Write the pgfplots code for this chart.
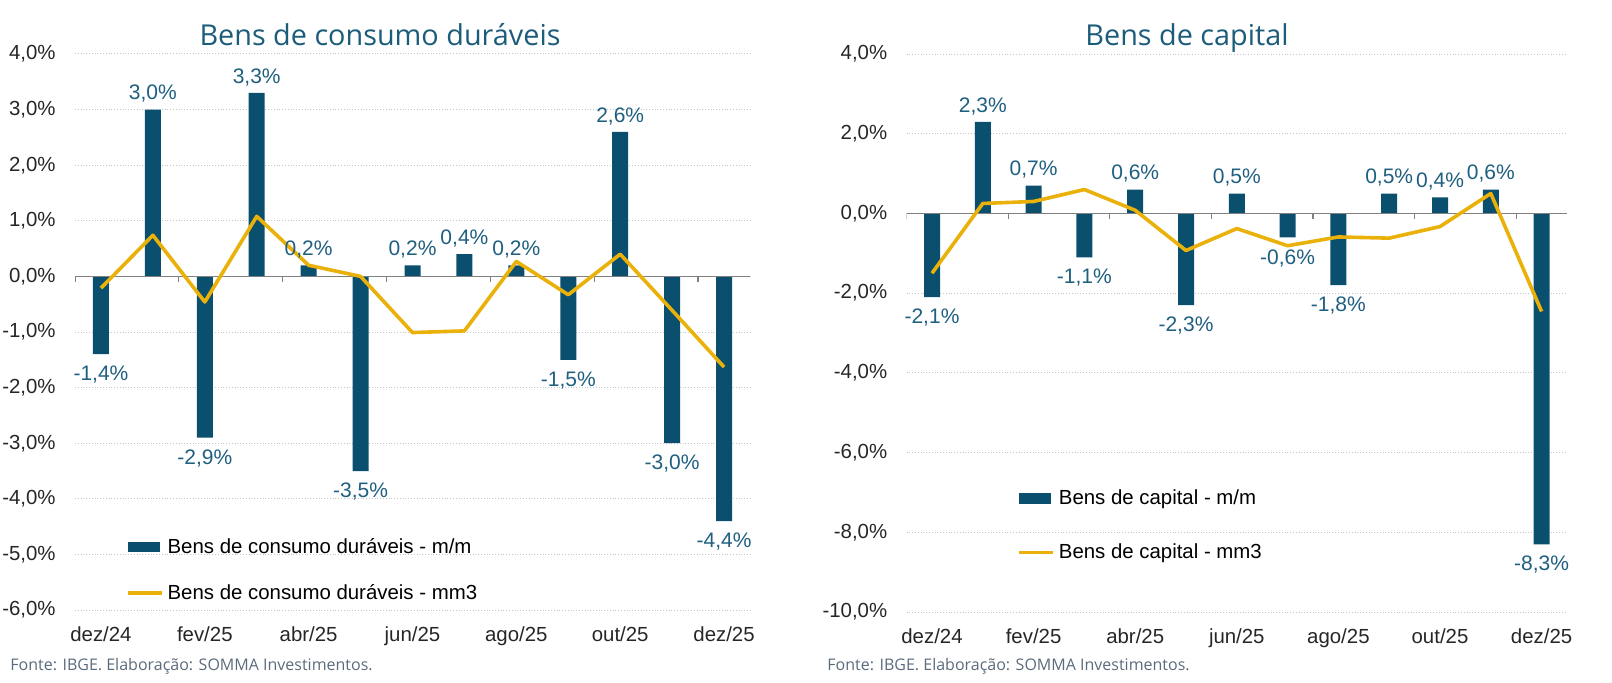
\documentclass[border=0pt]{standalone}
\usepackage{fontspec}
\setmainfont{Liberation Sans}
\newfontfamily\titlefont{Open Sans}
\usepackage{pgfplots}
\pgfplotsset{compat=1.18}

\definecolor{barcol}{HTML}{0A4F6E}
\definecolor{linecol}{HTML}{E9B10A}
\definecolor{labcol}{HTML}{1F5F80}
\definecolor{titcol}{HTML}{1B5C7A}
\definecolor{fontecol}{HTML}{5B6B7C}
\definecolor{tickcol}{HTML}{262626}
\definecolor{zerocol}{HTML}{808080}

\pgfplotsset{
  painel/.style={
    scale only axis, anchor=south west,
    xmin=-0.5, xmax=12.5,
    axis line style={draw=none},
    xtick={0,2,...,12},
    xticklabels={dez/24,fev/25,abr/25,jun/25,ago/25,out/25,dez/25},
    major tick length=0pt,
    ymajorgrids, grid style={densely dotted, gray!45, line width=0.5pt},
    /pgf/number format/assume math mode=true,
    yticklabel={\pgfmathprintnumber[fixed,fixed zerofill,precision=1,use comma]{\tick}\%},
    tick label style={font=\fontsize{10.2}{12}\selectfont, text=tickcol},
    yticklabel style={inner sep=0pt, xshift=-9.5pt},
    xticklabel style={inner sep=0pt, yshift=-8.4pt},
    legend cell align=left,
    legend style={draw=none, fill=none, font=\fontsize{10.2}{12}\selectfont,
      text=black, inner sep=0pt, anchor=north west},
  },
  barras/.style={
    ybar, bar width=8pt, bar shift=0pt, fill=barcol, draw=none,
    visualization depends on={y \as \rawy},
    nodes near coords={\pgfmathprintnumber[fixed,fixed zerofill,precision=1,use comma]{\pgfplotspointmeta}\%},
    nodes near coords align={vertical},
    nodes near coords style={font=\fontsize{10.5}{12}\selectfont, text=labcol,
      yshift={-2.5*(\rawy<0)}},
    legend image code/.code={\fill[barcol] (0pt,-2.6pt) rectangle (16pt,2.6pt);},
  },
  linha/.style={
    linecol, line width=1.8pt, mark=none, line join=round,
    legend image code/.code={\draw[linecol, line width=1.8pt] (0pt,0pt) -- (17pt,0pt);},
  },
}

\begin{document}
\begin{tikzpicture}
\useasboundingbox (0,0) rectangle (806pt,341pt);

% Bens de consumo duraveis
\begin{axis}[painel,
    at={(37.5pt,36pt)}, width=337.5pt, height=278pt,
    ymin=-6, ymax=4, ytick={-6,-5,...,4},
    legend style={at={(0.075,0.137)}, row sep=10pt},
  ]
  \addplot[barras] coordinates {
    (0,-1.4) (1,3.0) (2,-2.9) (3,3.3) (4,0.2) (5,-3.5) (6,0.2)
    (7,0.4) (8,0.2) (9,-1.5) (10,2.6) (11,-3.0) (12,-4.4)
  };
  \addlegendentry{Bens de consumo duráveis - m/m}
  \draw[zerocol, line width=0.75pt] (axis cs:-0.5,0) -- (axis cs:12.5,0);
  \pgfplotsinvokeforeach{-0.5,1.5,3.5,5.5,7.5,9.5,11.5}{
    \draw[zerocol, line width=0.6pt] (axis cs:#1,0) -- ++(0pt,-3pt);
  }
  \addplot[linha] coordinates {
    (0,-0.21) (1,0.74) (2,-0.46) (3,1.08) (4,0.20) (5,0.0) (6,-1.01)
    (7,-0.98) (8,0.27) (9,-0.33) (10,0.40) (11,-0.61) (12,-1.63)
  };
  \addlegendentry{Bens de consumo duráveis - mm3}
\end{axis}

% Bens de capital
\begin{axis}[painel,
    at={(453.3pt,35pt)}, width=330.2pt, height=279pt,
    ymin=-10, ymax=4, ytick={-10,-8,...,4},
    legend style={at={(0.167,0.227)}, row sep=14pt},
  ]
  \addplot[barras] coordinates {
    (0,-2.1) (1,2.3) (2,0.7) (3,-1.1) (4,0.6) (5,-2.3) (6,0.5)
    (7,-0.6) (8,-1.8) (9,0.5) (10,0.4) (11,0.6) (12,-8.3)
  };
  \addlegendentry{Bens de capital - m/m}
  \draw[zerocol, line width=0.75pt] (axis cs:-0.5,0) -- (axis cs:12.5,0);
  \pgfplotsinvokeforeach{-0.5,1.5,3.5,5.5,7.5,9.5,11.5}{
    \draw[zerocol, line width=0.6pt] (axis cs:#1,0) -- ++(0pt,-3pt);
  }
  \addplot[linha] coordinates {
    (0,-1.50) (1,0.25) (2,0.30) (3,0.60) (4,0.08) (5,-0.93) (6,-0.38)
    (7,-0.81) (8,-0.59) (9,-0.62) (10,-0.33) (11,0.50) (12,-2.46)
  };
  \addlegendentry{Bens de capital - mm3}
\end{axis}

\node[anchor=base, inner sep=0pt, text=titcol] at (190pt,318.5pt)
  {\titlefont\fontsize{14.4}{16}\selectfont Bens de consumo duráveis};
\node[anchor=base, inner sep=0pt, text=titcol] at (593.5pt,318.5pt)
  {\titlefont\fontsize{14.4}{16}\selectfont Bens de capital};
\node[anchor=base west, inner sep=0pt, text=fontecol] at (5pt,6pt)
  {\titlefont\fontsize{8}{10}\selectfont Fonte: IBGE. Elaboração: SOMMA Investimentos.};
\node[anchor=base west, inner sep=0pt, text=fontecol] at (413.5pt,6pt)
  {\titlefont\fontsize{8}{10}\selectfont Fonte: IBGE. Elaboração: SOMMA Investimentos.};
\end{tikzpicture}
\end{document}
